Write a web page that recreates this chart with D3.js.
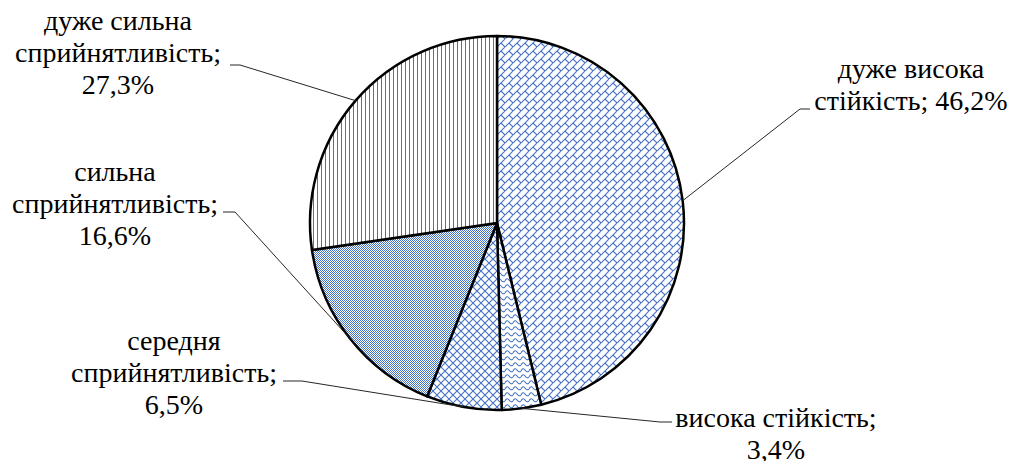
<!DOCTYPE html>
<html>
<head>
<meta charset="utf-8">
<script src="https://cdn.jsdelivr.net/npm/d3@7"></script>
<style>
  html, body { margin: 0; padding: 0; background: #fff; }
</style>
</head>
<body>
<div id="chart"></div>
<script>
// values in %, slices go clockwise from 12 o'clock
const categories = [
  "дуже висока стійкість",
  "висока стійкість",
  "середня сприйнятливість",
  "сильна сприйнятливість",
  "дуже сильна сприйнятливість"
];
const values = [46.2, 3.4, 6.5, 16.6, 27.3];
// how each label is broken into lines ({v} = value)
const labelLines = [
  ["дуже висока", "стійкість; {v}"],
  ["висока стійкість;", "{v}"],
  ["середня", "сприйнятливість;", "{v}"],
  ["сильна", "сприйнятливість;", "{v}"],
  ["дуже сильна", "сприйнятливість;", "{v}"]
];

const width = 1011, height = 461;
const cx = 497, cy = 223, radius = 187;
const blue = "#4472C4";

// label placement: text centre x, first baseline y, leader elbow
const labelLayout = [
  { x: 911, y: 78,  ex: 800, ey: 109, tx: 810, ty: 109 },
  { x: 776, y: 427, ex: 660, ey: 422, tx: 672, ty: 422 },
  { x: 174, y: 350, ex: 302, ey: 381, tx: 283, ty: 381 },
  { x: 115, y: 181, ex: 235, ey: 212, tx: 223, ty: 212 },
  { x: 118, y: 30,  ex: 240, ey: 65,  tx: 230, ty: 65 }
];
const lineStep = 32;

const svg = d3.select("#chart").append("svg")
  .attr("width", width)
  .attr("height", height);

const defs = svg.append("defs");

function addPattern(id, w, h, build) {
  const p = defs.append("pattern")
    .attr("id", id)
    .attr("patternUnits", "userSpaceOnUse")
    .attr("width", w)
    .attr("height", h);
  p.append("rect").attr("width", w).attr("height", h).attr("fill", "#fff");
  build(p);
}

// diagonal brick
addPattern("p-brick", 8, 8, (p) => {
  p.append("path")
    .attr("d", "M-1,9 L9,-1 M4,4 L8,8")
    .attr("stroke", blue).attr("stroke-width", 1.1).attr("fill", "none");
});
// wave
addPattern("p-wave", 8, 6, (p) => {
  p.append("path")
    .attr("d", "M0,4 Q2,0 4,3 T8,4")
    .attr("stroke", blue).attr("stroke-width", 1.1).attr("fill", "none");
});
// diamond hatch
addPattern("p-diamond", 8, 8, (p) => {
  p.append("path")
    .attr("d", "M0,0 L8,8 M8,0 L0,8")
    .attr("stroke", blue).attr("stroke-width", 1.1).attr("fill", "none");
});
// 50% checker
addPattern("p-checker", 2, 2, (p) => {
  p.append("rect").attr("x", 0).attr("y", 0).attr("width", 1).attr("height", 1).attr("fill", blue);
  p.append("rect").attr("x", 1).attr("y", 1).attr("width", 1).attr("height", 1).attr("fill", blue);
});
// vertical lines
addPattern("p-vert", 4, 4, (p) => {
  p.append("rect").attr("x", 0).attr("y", 0).attr("width", 1).attr("height", 4)
    .attr("fill", blue);
});

const fills = ["p-brick", "p-wave", "p-diamond", "p-checker", "p-vert"];

const pie = d3.pie().sort(null).value((d) => d)(values);
const arc = d3.arc().innerRadius(0).outerRadius(radius);
const edgeArc = d3.arc().innerRadius(radius).outerRadius(radius);

const g = svg.append("g").attr("transform", `translate(${cx},${cy})`);

g.selectAll("path.slice")
  .data(pie)
  .enter()
  .append("path")
  .attr("class", "slice")
  .attr("d", arc)
  .attr("fill", (d, i) => `url(#${fills[i]})`)
  .attr("stroke", "#000")
  .attr("stroke-width", 2.5)
  .attr("stroke-linejoin", "round");

const fmt = (v) => d3.format(".1f")(v).replace(".", ",") + "%";

// leader lines
svg.selectAll("path.leader")
  .data(pie)
  .enter()
  .append("path")
  .attr("class", "leader")
  .attr("fill", "none")
  .attr("stroke", "#262626")
  .attr("stroke-width", 1)
  .attr("d", (d, i) => {
    const [px, py] = edgeArc.centroid(d);
    const L = labelLayout[i];
    return `M${cx + px},${cy + py} L${L.ex},${L.ey} L${L.tx},${L.ty}`;
  });

// labels
const labels = svg.selectAll("text.lbl")
  .data(pie)
  .enter()
  .append("text")
  .attr("class", "lbl")
  .style("font-family", '"Liberation Serif"')
  .style("font-size", "28px")
  .attr("fill", "#000")
  .attr("text-anchor", "middle");

labels.each(function (d, i) {
  const L = labelLayout[i];
  d3.select(this).selectAll("tspan")
    .data(labelLines[i])
    .enter()
    .append("tspan")
    .attr("x", L.x)
    .attr("y", (s, j) => L.y + j * lineStep)
    .text((s) => s.replace("{v}", fmt(values[i])));
});
</script>
</body>
</html>
